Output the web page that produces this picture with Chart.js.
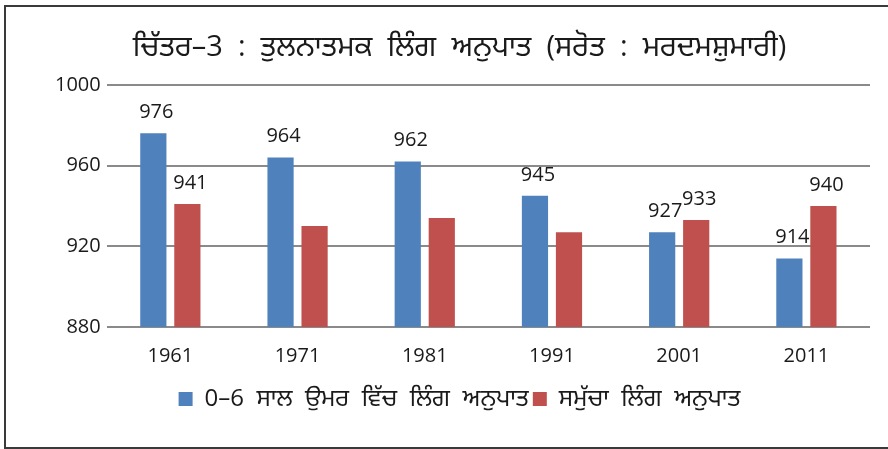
<!DOCTYPE html>
<html>
<head>
<meta charset="utf-8">
<script src="https://cdn.jsdelivr.net/npm/chart.js@4.4.1/dist/chart.umd.min.js"></script>
<style>
  html, body { margin: 0; padding: 0; background: #fff; }
  #wrap { position: relative; width: 888px; height: 449px; }
  #frame { position: absolute; left: 4px; top: 5px; width: 890px; height: 444px;
           border: 2px solid #3a3a3a; box-sizing: border-box; pointer-events: none; }
  canvas { position: absolute; left: 0; top: 0; }
</style>
</head>
<body>
<div id="wrap">
  <canvas id="myChart" width="888" height="449"></canvas>
  <div id="frame"></div>
</div>
<script>
// data
var years = ['1961', '1971', '1981', '1991', '2001', '2011'];
var childRatio = [976, 964, 962, 945, 927, 914];
var overallRatio = [941, 930, 934, 927, 933, 940];
// which bars carry a value label in the original
var childShown = [true, true, true, true, true, true];
var overallShown = [true, false, false, false, true, true];
var yTicks = [880, 920, 960, 1000];

var titleText = 'ਚਿੱਤਰ–3  :  ਤੁਲਨਾਤਮਕ  ਲਿੰਗ  ਅਨੁਪਾਤ  (ਸਰੋਤ  :  ਮਰਦਮਸ਼ੁਮਾਰੀ)';
var childLabel = '0–6  ਸਾਲ  ਉਮਰ  ਵਿੱਚ  ਲਿੰਗ  ਅਨੁਪਾਤ';
var overallLabel = 'ਸਮੁੱਚਾ  ਲਿੰਗ  ਅਨੁਪਾਤ';

var fontFam = '"Open Sans", "Noto Sans Gurmukhi", "Noto Sans", sans-serif';

var valueLabels = {
  id: 'valueLabels',
  afterDatasetsDraw: function(chart) {
    var ctx = chart.ctx;
    var shown = [childShown, overallShown];
    ctx.save();
    ctx.font = '20px ' + fontFam;
    ctx.fillStyle = '#1a1a1a';
    ctx.textAlign = 'center';
    ctx.textBaseline = 'middle';
    chart.data.datasets.forEach(function(ds, di) {
      var meta = chart.getDatasetMeta(di);
      meta.data.forEach(function(bar, i) {
        if (!shown[di][i]) return;
        ctx.fillText(ds.data[i], bar.x + 3, bar.y - 21);
      });
    });
    ctx.restore();
  }
};

var ctx = document.getElementById('myChart').getContext('2d');
var myChart = new Chart(ctx, {
  type: 'bar',
  data: {
    labels: years,
    datasets: [{
      label: childLabel,
      data: childRatio,
      backgroundColor: '#4f81bd'
    }, {
      label: overallLabel,
      data: overallRatio,
      backgroundColor: '#c0504d'
    }]
  },
  options: {
    responsive: false,
    animation: false,
    categoryPercentage: 0.535,
    barPercentage: 0.77,
    layout: { padding: { left: 49, right: 18, top: 4, bottom: 28 } },
    plugins: {
      title: {
        display: true,
        text: titleText,
        color: '#1a1a1a',
        font: { family: fontFam, size: 29, weight: 'normal' },
        padding: { top: 26, bottom: 20 }
      },
      legend: {
        position: 'bottom',
        labels: {
          color: '#1a1a1a',
          font: { family: fontFam, size: 24 },
          boxWidth: 14,
          boxHeight: 14,
          padding: 4
        }
      },
      tooltip: { enabled: false }
    },
    scales: {
      x: {
        grid: { display: false },
        border: { display: false },
        ticks: { color: '#1a1a1a', font: { family: fontFam, size: 20 }, padding: 9 },
        afterFit: function(scale) { scale.height += 6; }
      },
      y: {
        min: 880,
        max: 1000,
        afterBuildTicks: function(scale) {
          scale.ticks = yTicks.map(function(v) { return { value: v }; });
        },
        grid: { color: '#8a8a8a', lineWidth: 2, drawTicks: false },
        border: { display: false },
        ticks: {
          color: '#1a1a1a',
          font: { family: fontFam, size: 20 },
          padding: 6,
          callback: function(v) { return String(v); }
        }
      }
    }
  },
  plugins: [valueLabels]
});
</script>
</body>
</html>
